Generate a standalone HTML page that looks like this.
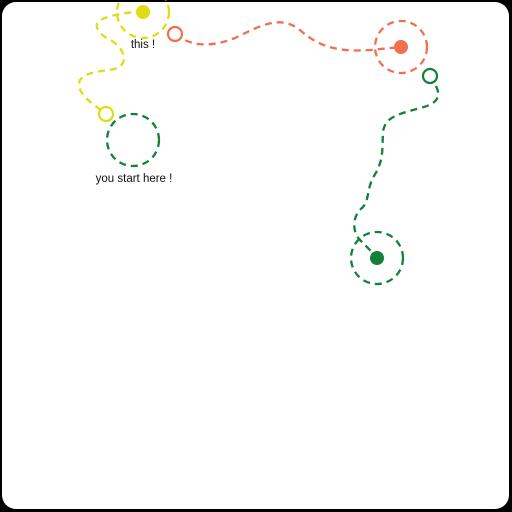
<!DOCTYPE html>
<html><head><style>
html,body{margin:0;padding:0;background:#000;}
svg{display:block;}
text{font-family:"Liberation Sans",sans-serif;font-size:11.5px;fill:#111;}
</style></head><body>
<svg width="512" height="512" viewBox="0 0 512 512">
<rect x="0" y="0" width="512" height="512" fill="#000"/>
<rect x="2" y="2" width="507" height="507" rx="14" fill="#fff"/>
<g fill="none" stroke-width="2.3" stroke-dasharray="7,5">
<path stroke="#e0dc14" d="M143,12 C130,12 120,13 105,18 C92,22 95,32 110,40 C125,48 128,62 118,68 C105,72 88,70 80,80 C75,92 90,102 106,114"/>
<circle stroke="#e0dc14" cx="143" cy="12" r="26"/>
<circle stroke="#118038" cx="133" cy="140" r="26"/>
<path stroke="#f07050" d="M175,34 C190,46 210,48 235,38 C260,26 280,14 300,30 C320,48 340,52 370,50 L401,47"/>
<circle stroke="#f07050" cx="401" cy="47" r="26"/>
<path stroke="#118038" d="M436,86 C441,96 438,104 420,108 C400,114 385,116 383,132 C382,150 384,160 374,176 C366,190 370,200 362,208 C352,216 352,232 360,240 C368,248 372,252 377,258"/>
<circle stroke="#118038" cx="377" cy="258" r="26"/>
</g>
<circle fill="#e0dc14" cx="143" cy="12" r="7"/>
<circle fill="#fff" stroke="#e0dc14" stroke-width="2.2" cx="106" cy="114" r="7"/>
<circle fill="#fff" stroke="#f07050" stroke-width="2.2" cx="175" cy="34" r="7"/>
<circle fill="#f07050" cx="401" cy="47" r="7"/>
<circle fill="#fff" stroke="#118038" stroke-width="2.2" cx="430" cy="76" r="7"/>
<circle fill="#118038" cx="377" cy="258" r="7"/>
<text x="143" y="48" text-anchor="middle">this !</text>
<text x="134" y="182" text-anchor="middle">you start here !</text>
</svg>
</body></html>
